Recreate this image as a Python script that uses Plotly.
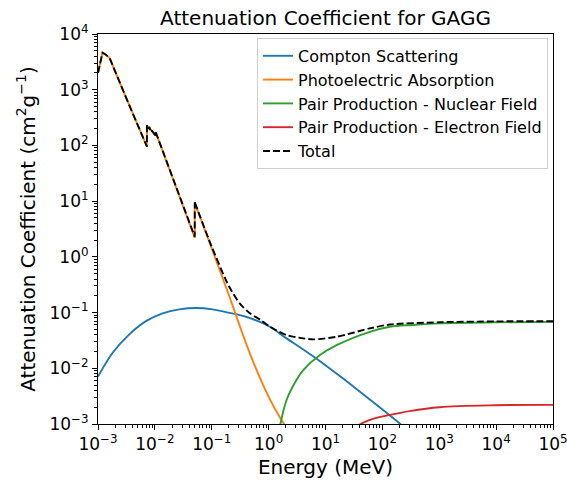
import plotly.graph_objects as go

# ---------------- data ----------------
compton_E = [1e-3, 1.81e-3, 3.55e-3, 6.98e-3, 0.0137, 0.0269, 0.0527, 0.104, 0.203,
             0.399, 1.05, 2.0, 4.0, 8.0, 16, 32, 64, 128, 256]
compton_mu = [0.0071, 0.019, 0.0406, 0.0703, 0.0968, 0.114, 0.1205, 0.114, 0.099,
              0.0841, 0.0556, 0.0351, 0.0219, 0.0134, 0.0079, 0.00458, 0.00262, 0.00149, 0.00084]

photo_low_E = [1.0e-3, 1.2e-3, 1.4e-3, 1.6e-3, 3.0e-3, 5.0e-3, 7.24e-3, 7.25e-3,
               7.93e-3, 7.94e-3, 8.37e-3, 8.38e-3, 10.36e-3, 10.37e-3, 0.0502]
photo_low_mu = [2000, 4600, 4200, 3700, 790, 226, 95, 232,
                200, 217, 185, 195, 150, 172, 2.2]
photo_high_E = [0.0502, 0.0503, 0.1, 0.203, 0.313, 0.469, 0.703, 1.05, 1.58, 2.37]
photo_high_mu = [2.2, 9.4, 1.41, 0.198, 0.0561, 0.0183, 0.00675, 0.0028, 0.00131, 0.00069]

nuc_E = [1.5, 2.07, 3.1, 4.06, 7.98, 15.7, 60.3, 135.5, 343, 1000, 1e4, 1e5]
nuc_mu = [0.0007, 0.0027, 0.0062, 0.0093, 0.0173, 0.026, 0.045, 0.0556, 0.060, 0.064, 0.067, 0.068]

el_E = [38, 45, 70, 134, 300, 1020, 1e4, 1e5]
el_mu = [0.00095, 0.00105, 0.00125, 0.00145, 0.0017, 0.0020, 0.00217, 0.0022]

total_low_E = photo_low_E
total_low_mu = [2000, 4600, 4200, 3700, 790, 226, 95, 232,
                200, 217, 185, 195, 150, 172, 2.3]
total_high_E = [0.0502, 0.0503, 0.1, 0.203, 0.313, 0.469, 0.703, 1.05, 2.07, 4.06, 6.08, 15.7, 60, 135, 1000, 1e4, 1e5]
total_high_mu = [2.3, 9.5, 1.52, 0.29, 0.145, 0.097, 0.075, 0.056, 0.0394, 0.0345, 0.033, 0.0368, 0.052, 0.061, 0.067, 0.0695, 0.070]

x_ticks = [1e-3, 1e-2, 1e-1, 1e0, 1e1, 1e2, 1e3, 1e4, 1e5]
x_ticktext = ["10<sup>−3</sup>", "10<sup>−2</sup>", "10<sup>−1</sup>", "10<sup>0</sup>",
              "10<sup>1</sup>", "10<sup>2</sup>", "10<sup>3</sup>", "10<sup>4</sup>", "10<sup>5</sup>"]
y_ticks = [1e-3, 1e-2, 1e-1, 1e0, 1e1, 1e2, 1e3, 1e4]
y_ticktext = ["10<sup>−3</sup>", "10<sup>−2</sup>", "10<sup>−1</sup>", "10<sup>0</sup>",
              "10<sup>1</sup>", "10<sup>2</sup>", "10<sup>3</sup>", "10<sup>4</sup>"]

BLUE, ORANGE, GREEN, RED = "#1f77b4", "#ff7f0e", "#2ca02c", "#d62728"
FONT = "DejaVu Sans"
LW = 1.9

fig = go.Figure()
fig.add_trace(go.Scatter(x=compton_E, y=compton_mu, mode="lines", name="Compton Scattering",
                         legendgroup="c", line=dict(color=BLUE, width=LW, shape="spline", smoothing=0.9)))
fig.add_trace(go.Scatter(x=photo_low_E, y=photo_low_mu, mode="lines", name="Photoelectric Absorption",
                         legendgroup="p", line=dict(color=ORANGE, width=LW)))
fig.add_trace(go.Scatter(x=photo_high_E[1:], y=photo_high_mu[1:], mode="lines", showlegend=False,
                         legendgroup="p", line=dict(color=ORANGE, width=LW, shape="spline", smoothing=0.8)))
fig.add_trace(go.Scatter(x=photo_high_E[:2], y=photo_high_mu[:2], mode="lines", showlegend=False,
                         legendgroup="p", line=dict(color=ORANGE, width=LW)))
fig.add_trace(go.Scatter(x=nuc_E, y=nuc_mu, mode="lines", name="Pair Production - Nuclear Field",
                         legendgroup="n", line=dict(color=GREEN, width=LW, shape="spline", smoothing=1)))
fig.add_trace(go.Scatter(x=el_E, y=el_mu, mode="lines", name="Pair Production - Electron Field",
                         legendgroup="e", line=dict(color=RED, width=LW, shape="spline", smoothing=1)))
fig.add_trace(go.Scatter(x=total_low_E + total_high_E[1:2], y=total_low_mu + total_high_mu[1:2], mode="lines",
                         name="Total", legendgroup="t",
                         line=dict(color="black", width=LW, dash="7px,3px")))
fig.add_trace(go.Scatter(x=total_high_E[1:], y=total_high_mu[1:], mode="lines", showlegend=False,
                         legendgroup="t",
                         line=dict(color="black", width=LW, dash="7px,3px", shape="spline", smoothing=0.8)))

axis_common = dict(
    type="log", showgrid=False, zeroline=False, showline=True, linecolor="black", linewidth=1.1,
    mirror=True, ticks="outside", ticklen=5, tickwidth=1.1, tickcolor="black",
    tickfont=dict(family=FONT, size=17, color="black"),
    tickmode="array", automargin=False, ticklabeloverflow="allow",
)
minor_common = dict(ticks="outside", ticklen=3, tickwidth=0.8, tickcolor="black",
                    dtick="D1", showgrid=False)

fig.update_layout(
    width=567, height=480,
    margin=dict(l=98, r=14, t=34, b=56, autoexpand=False),
    paper_bgcolor="white", plot_bgcolor="white",
    font=dict(family=FONT, color="black"),
    title=dict(text="Attenuation Coefficient for GAGG", font=dict(family=FONT, size=20, color="black"),
               x=0.5, xref="paper", xanchor="center", y=0.962, yref="container", yanchor="middle"),
    xaxis=dict(**axis_common, range=[-3, 5], tickvals=x_ticks, ticktext=x_ticktext,
               minor=minor_common,
               title=dict(text="Energy (MeV)", font=dict(family=FONT, size=20, color="black"), standoff=6)),
    yaxis=dict(**axis_common, range=[-3, 4], tickvals=y_ticks, ticktext=y_ticktext,
               minor=minor_common,
               title=dict(text="Attenuation Coefficient (cm<sup>2</sup>g<sup>−1</sup>)",
                          font=dict(family=FONT, size=20, color="black"), standoff=8)),
    legend=dict(x=0.989, xanchor="right", y=0.99, yanchor="top",
                bgcolor="rgba(255,255,255,0.8)", bordercolor="#d0d0d0", borderwidth=1,
                font=dict(family=FONT, size=16, color="black"), tracegroupgap=0,
                traceorder="grouped"),
    showlegend=True,
)

fig.write_html("out.html")
